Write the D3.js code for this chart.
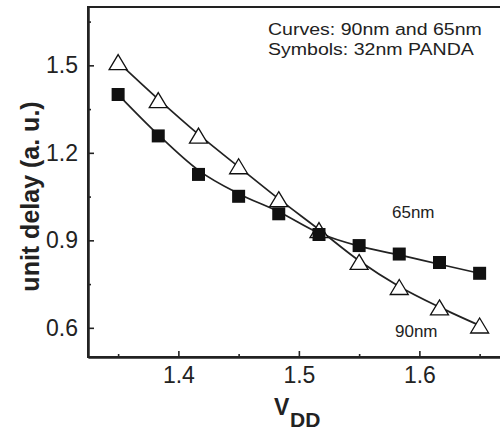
<!DOCTYPE html>
<html>
<head>
<meta charset="utf-8">
<script src="https://cdn.jsdelivr.net/npm/d3@7"></script>
<style>
  html, body { margin: 0; padding: 0; background: #fff; }
  svg { display: block; font-family: "Liberation Sans", Arial, sans-serif; }
</style>
</head>
<body>
<svg id="chart" width="500" height="434"></svg>
<script>
// ---- data ----
const vdd = [1.35, 1.3833, 1.4167, 1.45, 1.4833, 1.5167, 1.55, 1.5833, 1.6167, 1.65];
// 32nm PANDA symbols
const panda90 = [1.511, 1.381, 1.259, 1.154, 1.041, 0.935, 0.826, 0.740, 0.670, 0.608]; // open triangles
const panda65 = [1.400, 1.258, 1.126, 1.051, 0.991, 0.920, 0.882, 0.853, 0.824, 0.787]; // filled squares
// reference curves
const curve90 = [1.511, 1.384, 1.263, 1.152, 1.042, 0.937, 0.830, 0.742, 0.671, 0.608];
const curve65 = [1.400, 1.262, 1.140, 1.060, 0.998, 0.925, 0.880, 0.850, 0.818, 0.787];
const yMajor = [0.6, 0.9, 1.2, 1.5];
const yMinor = [0.75, 1.05, 1.35, 1.65];
const xMajor = [1.4, 1.5, 1.6];
const xMinor = [1.35, 1.45, 1.55, 1.65];
const legendLines = ["Curves: 90nm and 65nm", "Symbols: 32nm PANDA"];

// ---- layout ----
const svg = d3.select("#chart");
const mLeft = 88, mTop = 7, mBottom = 357, mRight = 509.75;
const x = d3.scaleLinear().domain([1.325, 1.675]).range([mLeft, mRight]);
const y = d3.scaleLinear().domain([0.5, 1.7]).range([mBottom, mTop]);
const ink = "#222";

// frame
svg.append("rect")
  .attr("x", mLeft).attr("y", mTop)
  .attr("width", mRight - mLeft).attr("height", mBottom - mTop)
  .attr("fill", "none").attr("stroke", ink).attr("stroke-width", 2);

// axes
function styleAxis(g) {
  g.select(".domain").attr("stroke", ink).attr("stroke-width", 2);
  g.selectAll(".tick line").attr("stroke", ink).attr("stroke-width", 1.6);
  g.selectAll(".tick text").attr("fill", ink)
    .style("font-size", "23px").style("font-family", "'Liberation Sans', Arial, sans-serif");
}
svg.append("g").attr("transform", `translate(0,${mBottom})`)
  .call(d3.axisBottom(x).tickValues(xMinor).tickSize(-3).tickSizeOuter(0).tickFormat(""))
  .call(styleAxis);
svg.append("g").attr("transform", `translate(0,${mBottom})`)
  .call(d3.axisBottom(x).tickValues(xMajor).tickSize(-6).tickSizeOuter(0).tickPadding(10)
    .tickFormat(d3.format(".1f")))
  .call(styleAxis);
svg.append("g").attr("transform", `translate(${mLeft},0)`)
  .call(d3.axisLeft(y).tickValues(yMinor).tickSize(-3).tickSizeOuter(0).tickFormat(""))
  .call(styleAxis);
svg.append("g").attr("transform", `translate(${mLeft},0)`)
  .call(d3.axisLeft(y).tickValues(yMajor).tickSize(-6).tickSizeOuter(0).tickPadding(10)
    .tickFormat(d3.format(".1f")))
  .call(styleAxis);

// curves
const line = d3.line().x((d, i) => x(vdd[i])).y(d => y(d)).curve(d3.curveMonotoneX);
[curve90, curve65].forEach(c => {
  svg.append("path").datum(c).attr("d", line)
    .attr("fill", "none").attr("stroke", ink).attr("stroke-width", 1.7);
});

// symbols: open triangles (drawn first), then filled squares
const triW = 18, triH = 15;
const triPath = `M0,${-triH / 2}L${triW / 2},${triH / 2}L${-triW / 2},${triH / 2}Z`;
svg.append("g").selectAll("path").data(panda90).join("path")
  .attr("d", triPath)
  .attr("transform", (d, i) => `translate(${x(vdd[i])},${y(d)})`)
  .attr("fill", "#fff").attr("stroke", "#111").attr("stroke-width", 1.3);
const sq = 13;
svg.append("g").selectAll("rect").data(panda65).join("rect")
  .attr("x", (d, i) => x(vdd[i]) - sq / 2).attr("y", d => y(d) - sq / 2)
  .attr("width", sq).attr("height", sq).attr("fill", "#111");

// series labels
svg.append("text").attr("x", 392).attr("y", 218).attr("fill", ink)
  .style("font-size", "17px").text("65nm");
svg.append("text").attr("x", 395).attr("y", 337).attr("fill", ink)
  .style("font-size", "17px").text("90nm");

// legend text
legendLines.forEach((t, i) => {
  svg.append("text")
    .attr("transform", `translate(268,${35 + i * 20}) scale(1.15,1)`)
    .attr("fill", ink).style("font-size", "17px").text(t);
});

// axis titles
svg.append("text")
  .attr("transform", `translate(39,196.5) rotate(-90)`)
  .attr("text-anchor", "middle").attr("fill", ink)
  .style("font-size", "25px").style("font-weight", "bold")
  .text("unit delay (a. u.)");
const xt = svg.append("text").attr("x", 274).attr("y", 415).attr("fill", ink)
  .style("font-weight", "bold");
xt.append("tspan").style("font-size", "23px").text("V");
xt.append("tspan").attr("x", 290).attr("y", 427).style("font-size", "21px").text("DD");
</script>
</body>
</html>
